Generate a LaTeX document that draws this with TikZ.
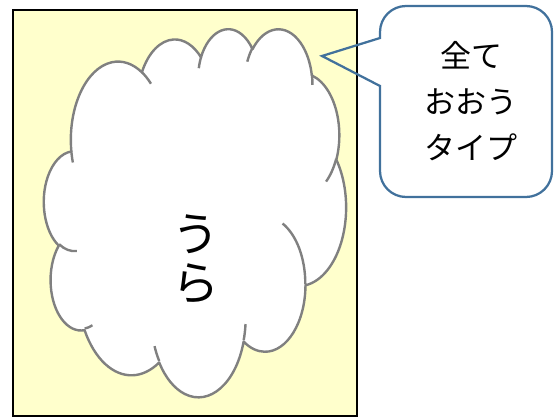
\documentclass[tikz,border=0pt]{standalone}
\usepackage{fontspec}
\newfontfamily\jp{Noto Sans CJK JP}
\definecolor{panel}{HTML}{FFFFCC}
\definecolor{calloutblue}{HTML}{41719C}
\definecolor{cloudgray}{HTML}{808080}
\def\SX{6.99074}
\def\SY{8.51852}
\def\OX{44}
\def\OY{28}
% defines a style holding an elliptical arc given in the 43.2 x 43.2 cloud frame
\newcommand\defcloudarc[5]{%
  \pgfmathsetmacro\cta{#4}%
  \pgfmathsetmacro\ctb{(#4)+(#5)}%
  \pgfmathsetmacro\cpa{atan2((#2)*sin(\cta),(#3)*cos(\cta))}%
  \pgfmathsetmacro\cpb{atan2((#2)*sin(\ctb),(#3)*cos(\ctb))}%
  \pgfmathsetmacro\cpa{-((\cpa)+360*round(((\cta)-(\cpa))/360))}%
  \pgfmathsetmacro\cpb{-((\cpb)+360*round(((\ctb)-(\cpb))/360))}%
  \pgfmathsetmacro\crx{(#2)*\SX}%
  \pgfmathsetmacro\cry{(#3)*\SY}%
  \edef\cdo{\noexpand\tikzset{#1/.style={x radius=\crx pt,y radius=\cry pt,start angle=\cpa,end angle=\cpb}}}%
  \cdo}
\defcloudarc{cmA}{6.753}{9.190}{-190.4875}{123.7805}
\defcloudarc{cmB}{5.333}{7.267}{-144.1024}{89.9452}
\defcloudarc{cmC}{4.365}{5.945}{-145.8079}{99.7230}
\defcloudarc{cmD}{4.857}{6.595}{-130.9861}{117.2417}
\defcloudarc{cmE}{5.333}{7.273}{-78.7089}{109.0269}
\defcloudarc{cmF}{6.775}{9.220}{-46.2673}{130.2690}
\defcloudarc{cmG}{5.785}{7.867}{0.6250}{114.0333}
\defcloudarc{cmH}{6.752}{9.215}{22.4516}{115.1726}
\defcloudarc{cmI}{7.720}{10.543}{66.2426}{75.7110}
\defcloudarc{cmJ}{4.360}{5.918}{-274.9421}{146.7356}
\defcloudarc{cmK}{4.345}{5.945}{-246.8285}{152.5189}
\defcloudarc{ciA}{4.345}{5.945}{86.7420}{26.4295}
\defcloudarc{ciB}{4.360}{5.918}{73.6105}{11.4475}
\defcloudarc{ciC}{6.752}{9.215}{137.6242}{14.0811}
\defcloudarc{ciD}{6.752}{9.215}{6.4533}{15.9984}
\defcloudarc{ciE}{5.785}{7.867}{-70.2924}{70.9174}
\defcloudarc{ciF}{5.333}{7.273}{30.3180}{27.7515}
\defcloudarc{ciG}{4.857}{6.595}{-13.7443}{14.8589}
\defcloudarc{ciH}{4.857}{6.595}{-149.1815}{18.1954}
\defcloudarc{ciI}{4.365}{5.945}{-163.4943}{17.6864}
\defcloudarc{ciJ}{6.753}{9.190}{-66.7070}{12.3194}
\defcloudarc{ciK}{6.753}{9.190}{157.6544}{11.8582}
\tikzset{
  panelbox/.style={draw=black, line width=2pt, fill=panel},
  cloudshape/.style={draw=cloudgray, line width=2.4pt, fill=white, line join=round},
  cloudline/.style={draw=cloudgray, line width=2.4pt},
  calloutshape/.style={draw=calloutblue, line width=2.25pt, line join=miter},
  callouttext/.style={font=\jp\fontsize{31}{46}\selectfont, align=center, inner sep=0pt},
  cloudtext/.style={font=\jp\fontsize{47}{49}\selectfont, align=center, inner sep=0pt}
}
\newcommand\cp[2]{({\OX+(#1)*\SX},{\OY+(#2)*\SY})}
\begin{document}
\begin{tikzpicture}[x=1pt,y=-1pt]
\useasboundingbox (0,0) rectangle (559,419);
% panel
\path[panelbox] (13,10) rectangle (357,416);
% cloud outline
\path[cloudshape] \cp{3.900}{14.370} arc[cmA] arc[cmB] arc[cmC] arc[cmD] arc[cmE]
  arc[cmF] arc[cmG] arc[cmH] arc[cmI] arc[cmJ] arc[cmK] -- cycle;
% inner cloud arcs
\path[cloudline] \cp{4.693}{26.177} arc[ciA];
\path[cloudline] \cp{6.928}{34.899} arc[ciB];
\path[cloudline] \cp{16.478}{39.090} arc[ciC];
\path[cloudline] \cp{28.827}{34.751} arc[ciD];
\path[cloudline] \cp{34.129}{22.954} arc[ciE];
\path[cloudline] \cp{41.798}{15.354} arc[ciF];
\path[cloudline] \cp{38.324}{5.426} arc[ciG];
\path[cloudline] \cp{29.078}{3.952} arc[ciH];
\path[cloudline] \cp{22.141}{4.720} arc[ciI];
\path[cloudline] \cp{14.000}{5.192} arc[ciJ];
\path[cloudline] \cp{4.127}{15.789} arc[ciK];
\node[cloudtext] (ura) at (195.5,259) {う\\ら};
% callout
\coordinate (tip) at (322,56);
\path[calloutshape] (tip) -- (380,38) -- (380,32)
  arc[start angle=180, end angle=90, radius=26pt] -- (526,6)
  arc[start angle=90, end angle=0, radius=26pt] -- (552,171)
  arc[start angle=0, end angle=-90, radius=26pt] -- (406,197)
  arc[start angle=-90, end angle=-180, radius=26pt] -- (380,86) -- cycle;
\node[callouttext] (label) at (471,101) {全て\\おおう\\タイプ};
\end{tikzpicture}
\end{document}
